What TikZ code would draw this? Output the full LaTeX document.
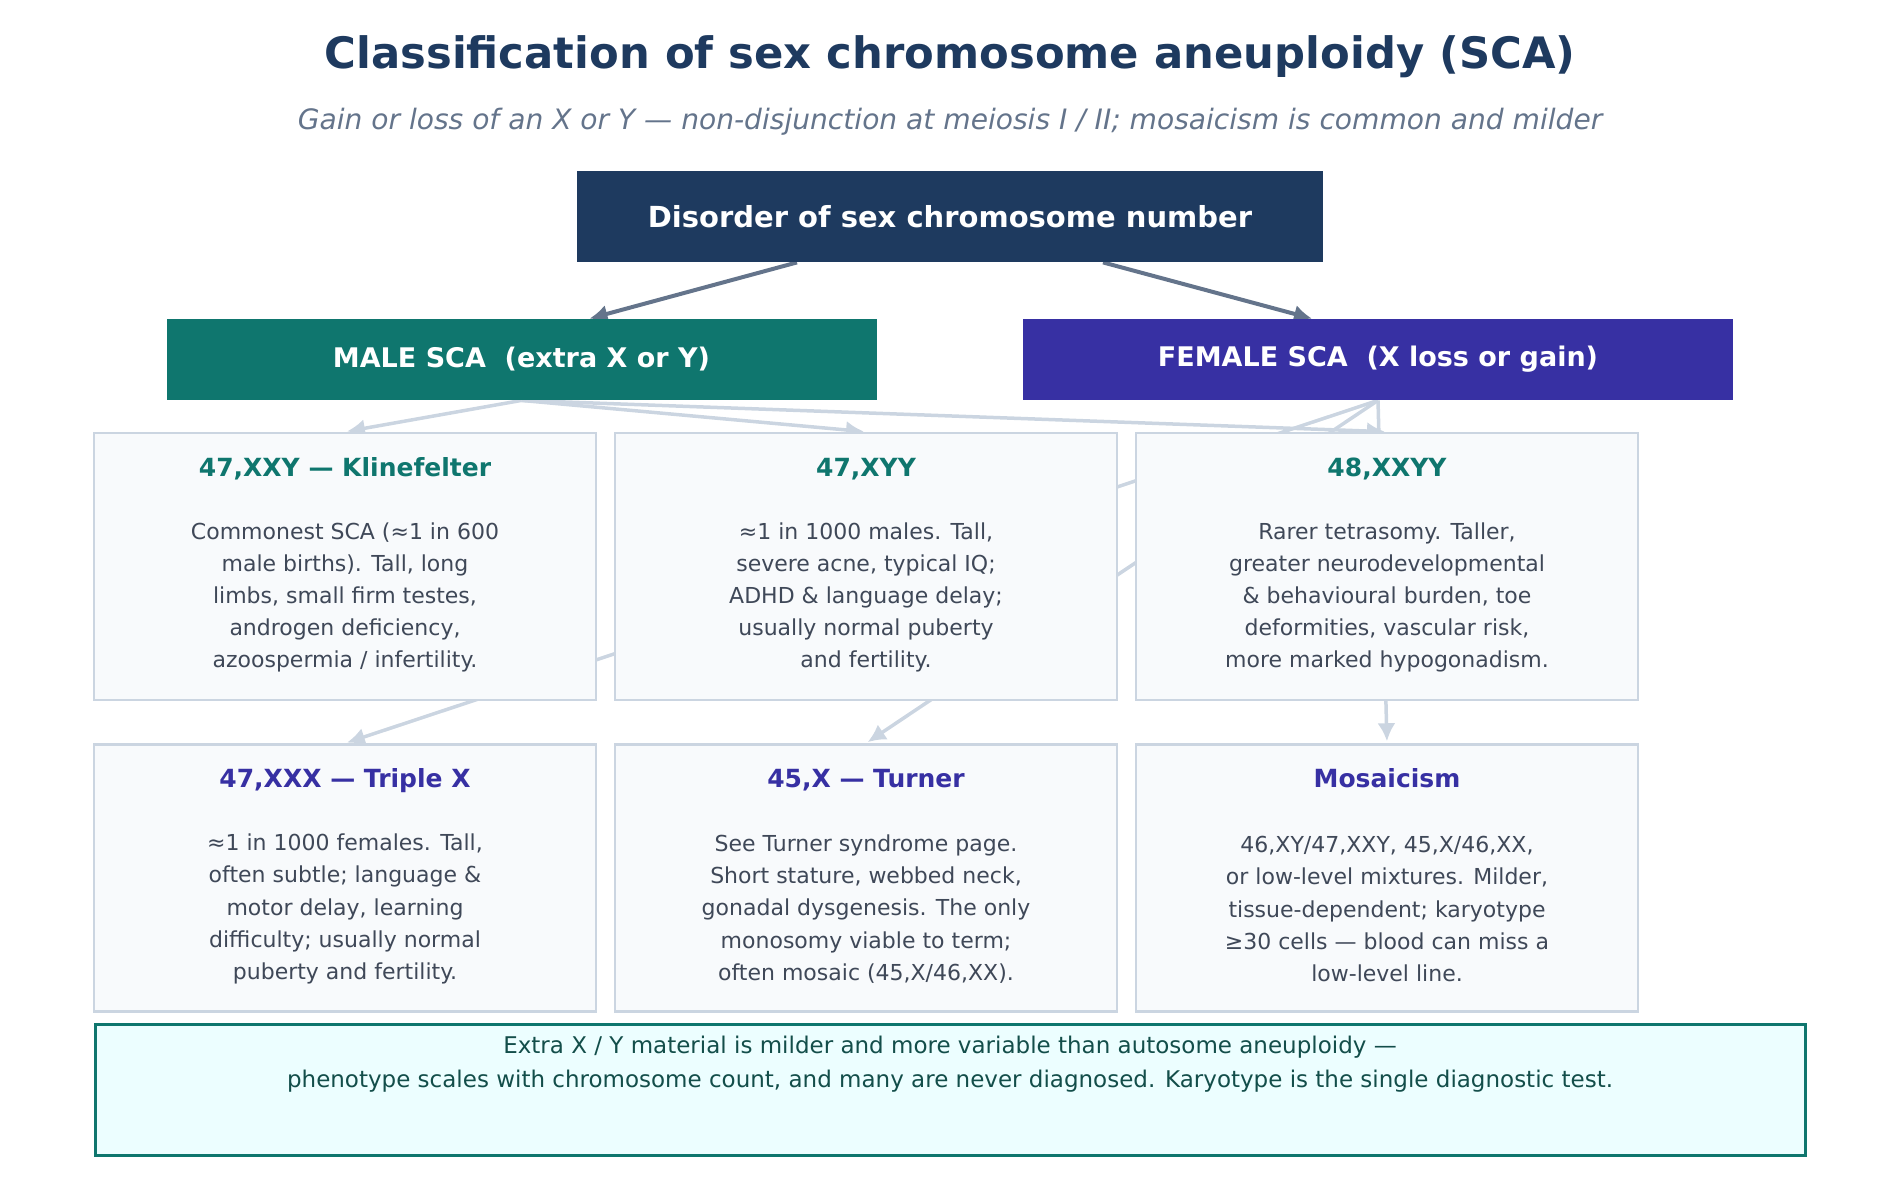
\documentclass[tikz,border=0pt]{standalone}
\usepackage{fontspec}
\setmainfont{DejaVu Sans}
\usetikzlibrary{arrows.meta,calc}
\pgfdeclarelayer{back}
\pgfsetlayers{back,main}

\definecolor{navy}{HTML}{1E3A5F}
\definecolor{slategray}{HTML}{64748B}
\definecolor{maleteal}{HTML}{0F766E}
\definecolor{femaleindigo}{HTML}{3730A3}
\definecolor{cardfill}{HTML}{F8FAFC}
\definecolor{cardline}{HTML}{CBD5E1}
\definecolor{bodytext}{HTML}{3F4858}
\definecolor{notefill}{HTML}{ECFEFF}
\definecolor{notetext}{HTML}{134E4A}

\tikzset{
  headbox/.style={fill=#1, text=white, inner sep=0pt, minimum height=40.5pt, minimum width=355pt,
    font=\bfseries\fontsize{13.5}{16}\selectfont},
  card/.style={draw=cardline, line width=1.25pt, fill=cardfill, inner sep=0pt,
    minimum width=251pt, minimum height=133.5pt},
  cardtitle/.style={text=#1, anchor=base, font=\bfseries\fontsize{12.5}{15}\selectfont},
  cardbody/.style={text=bodytext, align=center, font=\fontsize{11}{16.1}\selectfont},
  mainarrow/.style={draw=slategray, line width=2pt, -{Latex[length=9pt,width=9pt]}},
  subarrow/.style={draw=cardline, line width=1.75pt, -{Latex[length=9pt,width=9pt]}, shorten >=1pt},
}

\begin{document}
\begin{tikzpicture}[x=0.5pt,y=-0.5pt]
\useasboundingbox (0,0) rectangle (1900,1179);

\node[anchor=base, text=navy, font=\bfseries\fontsize{21.65}{26}\selectfont] (title) at (950,68)
  {Classification of sex chromosome aneuploidy (SCA)};
\node[anchor=base, text=slategray, font=\itshape\fontsize{14.05}{17}\selectfont] (subtitle) at (950,129)
  {Gain or loss of an X or Y — non-disjunction at meiosis I / II; mosaicism is common and milder};

\node[headbox=navy, minimum width=373pt, minimum height=45.5pt, font=\bfseries\fontsize{14.5}{17}\selectfont]
  (top) at (950,216.5) {};
\node[text=white, anchor=base, font=\bfseries\fontsize{14.5}{17}\selectfont] (top-text)
  at ([yshift=-5.6pt]top.center) {Disorder of sex chromosome number};
\node[headbox=maleteal] (male) at (521.5,359.5) {MALE SCA\ \ (extra X or Y)};
\node[headbox=femaleindigo] (female) at (1378,359.5) {FEMALE SCA\ \ (X loss or gain)};

% male row
\node[card] (xxy) at (345,566.5) {};
\node[cardtitle=maleteal] (xxy-title) at ([yshift=-22.2pt]xxy.north) {47,XXY — Klinefelter};
\node[cardbody] (xxy-text) at ([yshift=-15.5pt]xxy.center)
  {Commonest SCA (≈1 in 600\\male births). Tall, long\\limbs, small firm testes,\\androgen deficiency,\\azoospermia / infertility.};

\node[card] (xyy) at (866,566.5) {};
\node[cardtitle=maleteal] (xyy-title) at ([yshift=-22.2pt]xyy.north) {47,XYY};
\node[cardbody] (xyy-text) at ([yshift=-15.5pt]xyy.center)
  {≈1 in 1000 males. Tall,\\severe acne, typical IQ;\\ADHD \& language delay;\\usually normal puberty\\and fertility.};

\node[card] (xxyy) at (1387,566.5) {};
\node[cardtitle=maleteal] (xxyy-title) at ([yshift=-22.2pt]xxyy.north) {48,XXYY};
\node[cardbody] (xxyy-text) at ([yshift=-15.5pt]xxyy.center)
  {Rarer tetrasomy. Taller,\\greater neurodevelopmental\\\& behavioural burden, toe\\deformities, vascular risk,\\more marked hypogonadism.};

% female row
\node[card] (xxx) at (345,878) {};
\node[cardtitle=femaleindigo] (xxx-title) at ([yshift=-22.2pt]xxx.north) {47,XXX — Triple X};
\node[cardbody] (xxx-text) at ([yshift=-15.5pt]xxx.center)
  {≈1 in 1000 females. Tall,\\often subtle; language \&\\motor delay, learning\\difficulty; usually normal\\puberty and fertility.};

\node[card] (turner) at (866,878) {};
\node[cardtitle=femaleindigo] (turner-title) at ([yshift=-22.2pt]turner.north) {45,X — Turner};
\node[cardbody] (turner-text) at ([yshift=-15.5pt]turner.center)
  {See Turner syndrome page.\\Short stature, webbed neck,\\gonadal dysgenesis. The only\\monosomy viable to term;\\often mosaic (45,X/46,XX).};

\node[card] (mosaic) at (1387,878) {};
\node[cardtitle=femaleindigo] (mosaic-title) at ([yshift=-22.2pt]mosaic.north) {Mosaicism};
\node[cardbody] (mosaic-text) at ([yshift=-15.5pt]mosaic.center)
  {46,XY/47,XXY, 45,X/46,XX,\\or low-level mixtures. Milder,\\tissue-dependent; karyotype\\≥30 cells — blood can miss a\\low-level line.};

\node[draw=maleteal, line width=1.5pt, fill=notefill, minimum width=855pt, minimum height=65.5pt, inner sep=0pt]
  (note) at (950,1089.5) {};
\node[anchor=north, text=notetext, align=center, font=\fontsize{11.5}{17}\selectfont] (note-text)
  at ([yshift=-3.3pt]note.north)
  {Extra X / Y material is milder and more variable than autosome aneuploidy —\\phenotype scales with chromosome count, and many are never diagnosed. Karyotype is the single diagnostic test.};

\begin{pgfonlayer}{back}
\draw[mainarrow] ($(top.south)+(-153,0)$) -- ($(male.north)+(68,0)$);
\draw[mainarrow] ($(top.south)+(153,0)$) -- ($(female.north)+(-66,0)$);

\draw[subarrow] (male.south) -- (xxy.north);
\draw[subarrow] (male.south) -- (xyy.north);
\draw[subarrow] (male.south) -- (xxyy.north);

\draw[subarrow] (female.south) -- (xxx.north);
\draw[subarrow] (female.south) -- (turner.north);
\draw[subarrow] (female.south) -- (mosaic.north);
\end{pgfonlayer}

\end{tikzpicture}
\end{document}
